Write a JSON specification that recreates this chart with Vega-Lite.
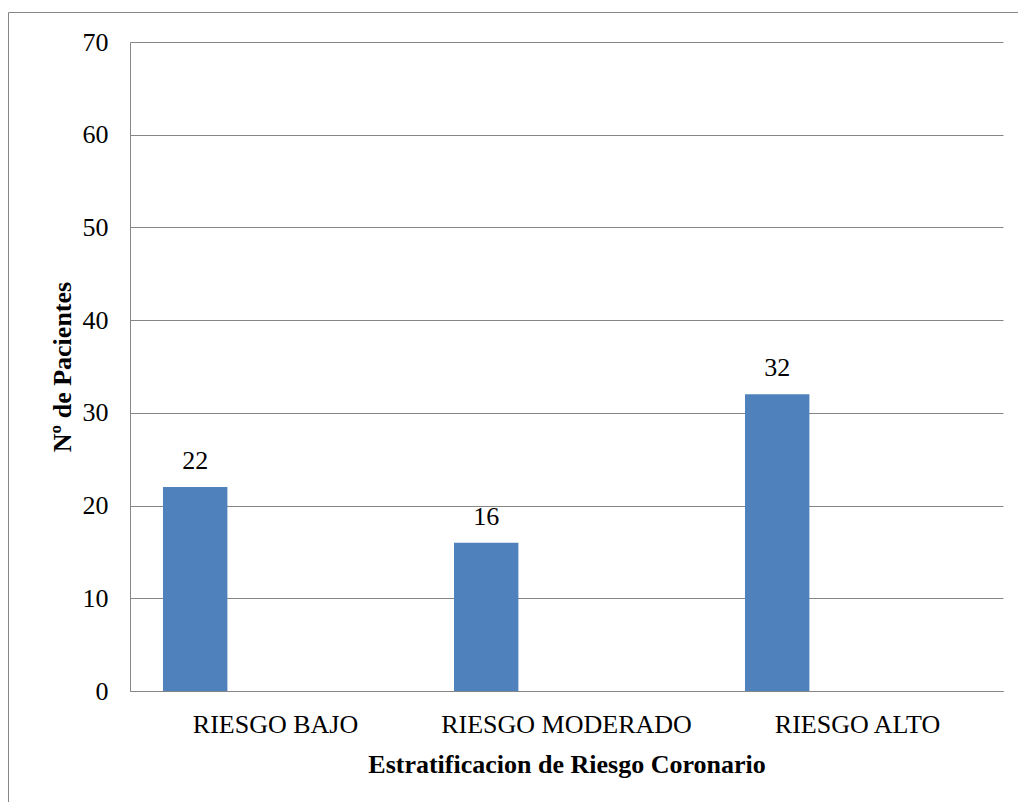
{
  "$schema": "https://vega.github.io/schema/vega-lite/v6.json",
  "width": 1010,
  "height": 790,
  "autosize": {"type": "none"},
  "padding": {"left": 8, "top": 12, "right": 0, "bottom": 0},
  "background": "white",
  "config": {
    "view": {"stroke": "#868686", "strokeWidth": 1, "fill": "white"},
    "font": "Liberation Serif",
    "axis": {
      "labelFont": "Liberation Serif",
      "labelFontSize": 26,
      "labelColor": "black",
      "labelLimit": 0,
      "titleFont": "Liberation Serif",
      "titleFontSize": 26,
      "titleFontWeight": "bold",
      "titleColor": "black",
      "titleLimit": 0,
      "domainColor": "#868686",
      "gridColor": "#868686",
      "ticks": false,
      "tickSize": 0
    }
  },
  "data": {
    "values": [
      {"riesgo": "RIESGO BAJO", "serie": "Pacientes", "pacientes": 22},
      {"riesgo": "RIESGO MODERADO", "serie": "Pacientes", "pacientes": 16},
      {"riesgo": "RIESGO ALTO", "serie": "Pacientes", "pacientes": 32}
    ]
  },
  "encoding": {
    "x": {
      "field": "riesgo",
      "type": "nominal",
      "sort": null,
      "scale": {"range": [122, 995], "paddingInner": 0, "paddingOuter": 0},
      "axis": {
        "title": "Estratificacion de Riesgo Coronario",
        "orient": "bottom",
        "offset": -111,
        "labelAngle": 0,
        "labelPadding": 20,
        "grid": false,
        "titleY": 81,
        "titleBaseline": "alphabetic"
      }
    },
    "xOffset": {
      "field": "serie",
      "type": "nominal",
      "scale": {"type": "band", "paddingInner": 0.4316, "paddingOuter": 1, "align": 0.1456}
    },
    "y": {
      "field": "pacientes",
      "type": "quantitative",
      "scale": {"domain": [0, 70], "range": [679, 30], "nice": false, "zero": true},
      "axis": {
        "title": "Nº de Pacientes",
        "orient": "left",
        "offset": -122,
        "values": [0, 10, 20, 30, 40, 50, 60, 70],
        "grid": true,
        "labelPadding": 22,
        "titleX": -60,
        "titleBaseline": "alphabetic"
      }
    }
  },
  "layer": [
    {"mark": {"type": "bar", "color": "#4F81BD"}},
    {
      "mark": {
        "type": "text",
        "baseline": "alphabetic",
        "dy": -18,
        "fontSize": 26,
        "font": "Liberation Serif",
        "color": "black"
      },
      "encoding": {"text": {"field": "pacientes", "type": "quantitative"}}
    }
  ]
}
